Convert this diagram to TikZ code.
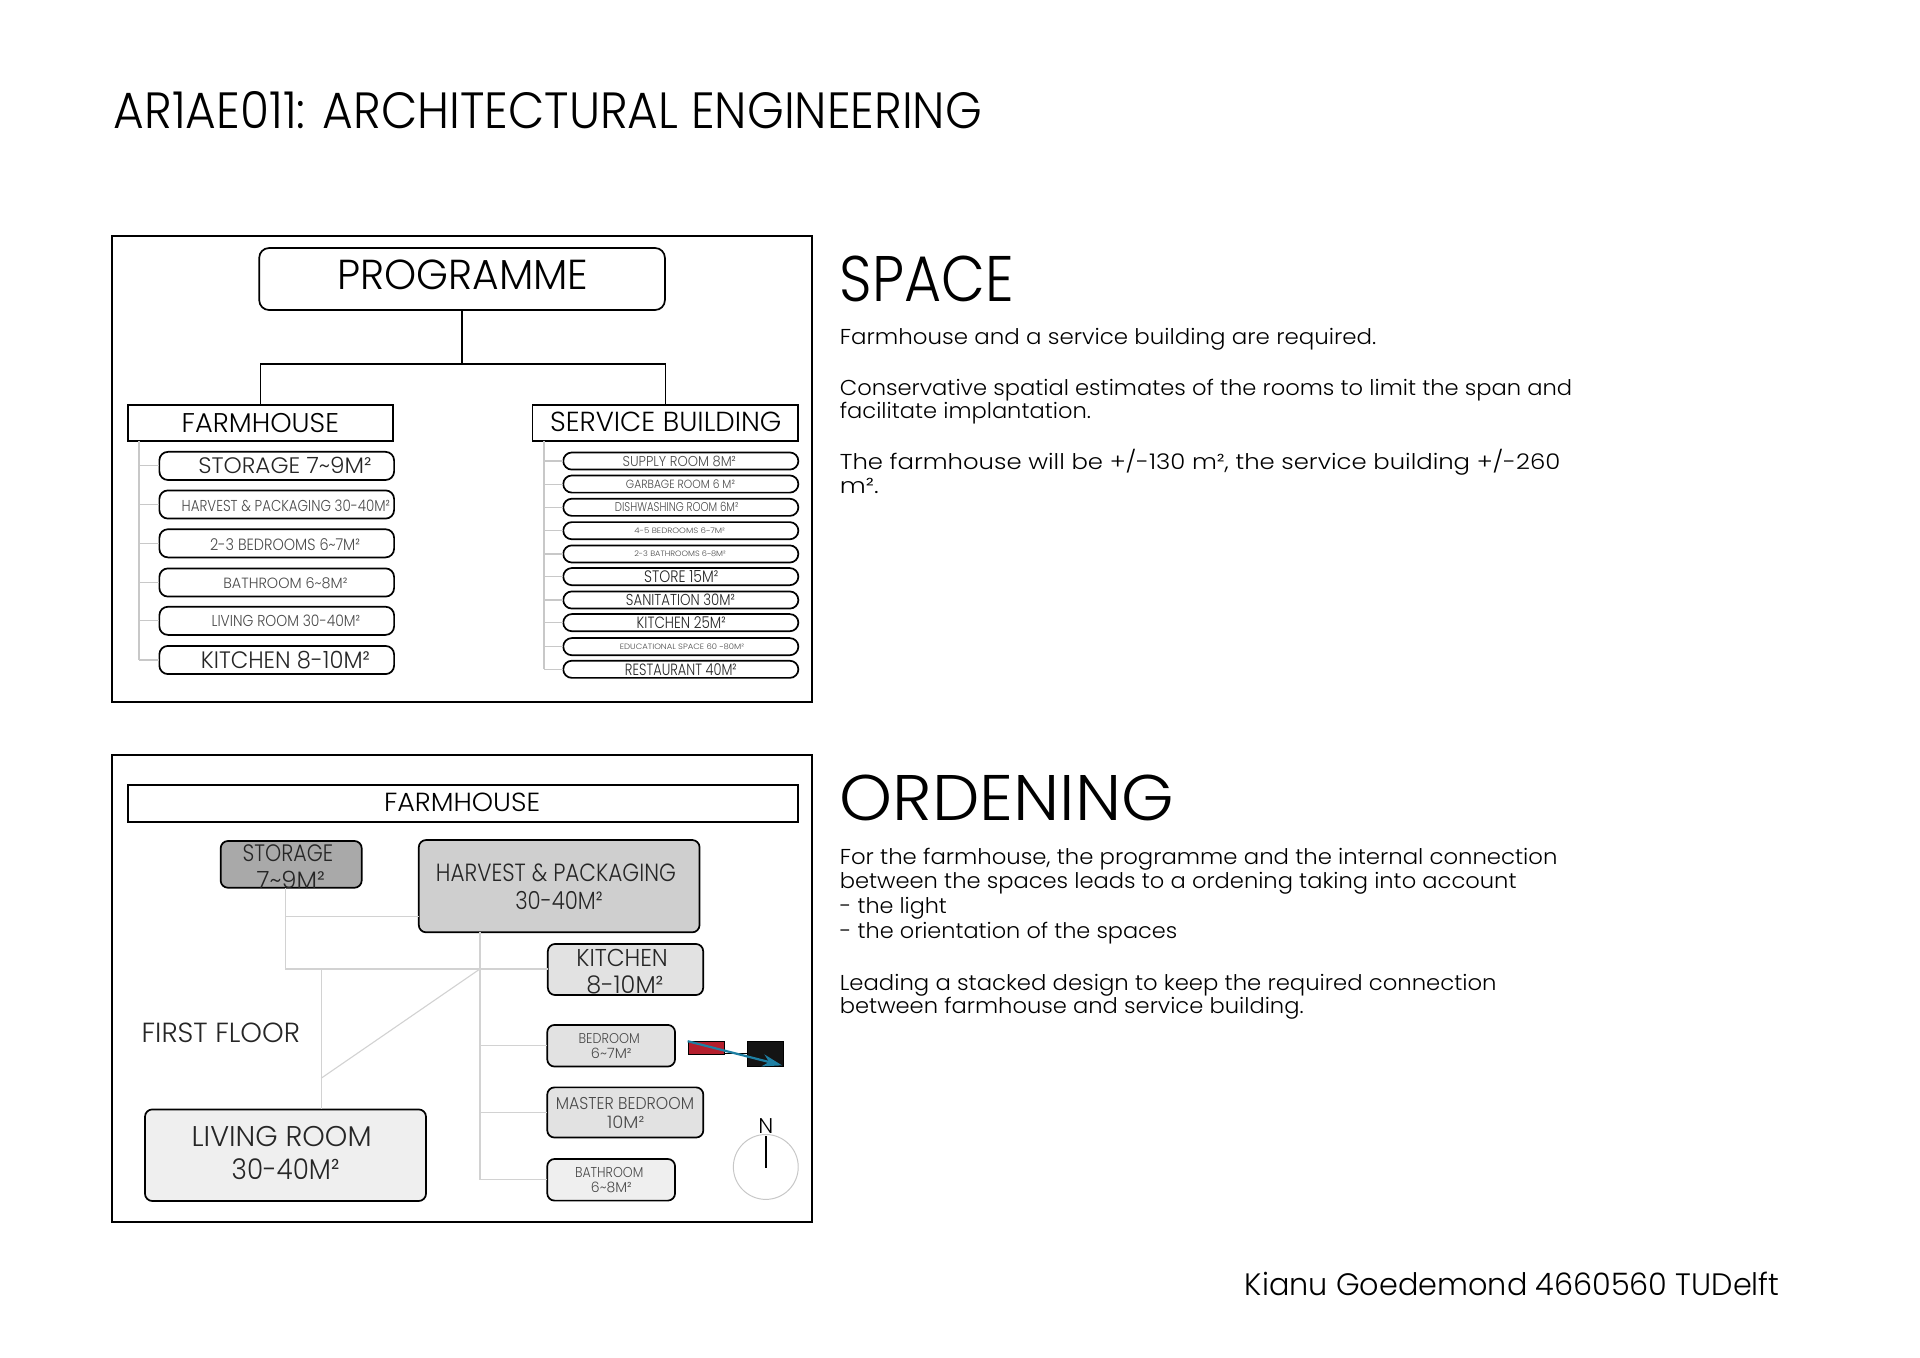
\documentclass[tikz,border=0pt]{standalone}
\usepackage{fontspec}
\setmainfont{Poppins Light}
\usepackage{graphicx}
\usetikzlibrary{arrows.meta}
\definecolor{lgray}{HTML}{D2D2D2}
\definecolor{tgray}{HTML}{C8C8C8}
\definecolor{dtext}{HTML}{262626}
\definecolor{mtext}{HTML}{4A4A4A}
\definecolor{fstor}{HTML}{A9A9A9}
\definecolor{fharv}{HTML}{CFCFCF}
\definecolor{fmid}{HTML}{E2E2E2}
\definecolor{flight}{HTML}{EFEFEF}
\definecolor{redc}{HTML}{B41F2D}
\definecolor{arrowc}{HTML}{1E7FA3}
\newcommand\tl[3]{\resizebox{#2pt}{\height}{\fontsize{#1}{#1}\selectfont #3}}
\tikzset{
  txt/.style={anchor=base west, inner sep=0pt, outer sep=0pt},
  frm/.style={draw=black, line width=1.6pt, inner sep=0pt, outer sep=0pt},
  hbox/.style={draw=black, line width=1.4pt, inner sep=0pt, outer sep=0pt},
  rbox/.style={hbox, rounded corners=#1},
  rbox/.default=7pt,
  gline/.style={draw=lgray, line width=0.9pt},
  tline/.style={draw=tgray, line width=0.9pt},
  bline/.style={draw=black, line width=1.4pt},
}
\begin{document}
\begin{tikzpicture}[x=1pt,y=-1pt]
\useasboundingbox (0,0) rectangle (1568,1109);
\fill[white] (0,0) rectangle (1568,1109);

% ---------- headings and texts ----------
\node[txt] (title) at (93,104.8) {\tl{41.6}{709}{AR1AE011: ARCHITECTURAL ENGINEERING}};

\node[txt] (space) at (685.9,246.4) {\tl{52.6}{142.2}{SPACE}};
\node[txt] (sp1) at (685.9,281.7) {\tl{17.6}{438}{Farmhouse and a service building are required.}};
\node[txt] (sp2) at (685.9,323.1) {\tl{17.6}{598}{Conservative spatial estimates of the rooms to limit the span and}};
\node[txt] (sp3) at (685.9,341.6) {\tl{17.6}{205}{facilitate implantation.}};
\node[txt] (sp4) at (685.9,383.8) {\tl{17.6}{588.3}{The farmhouse will be +/-130 m², the service building +/-260}};
\node[txt] (sp5) at (685.9,402.9) {\tl{17.6}{31.7}{m².}};

\node[txt] (ord) at (685.9,669.7) {\tl{52.6}{273}{ORDENING}};
\node[txt] (or1) at (685.9,706.4) {\tl{17.6}{586}{For the farmhouse, the programme and the internal connection}};
\node[txt] (or2) at (685.9,725.4) {\tl{17.6}{552.6}{between the spaces leads to a ordening taking into account}};
\node[txt] (or3) at (685.9,745.9) {\tl{17.6}{87.4}{- the light}};
\node[txt] (or4) at (685.9,766.3) {\tl{17.6}{275.5}{- the orientation of the spaces}};
\node[txt] (or5) at (685.9,808.5) {\tl{17.6}{536.3}{Leading a stacked design to keep the required connection}};
\node[txt] (or6) at (685.9,827.5) {\tl{17.6}{378.7}{between farmhouse and service building.}};

\node[txt] (foot) at (1016.7,1057.6) {\tl{25.3}{436.5}{Kianu Goedemond 4660560 TUDelft}};

% ---------- top panel ----------
\node[frm, minimum width=571.3pt, minimum height=380.3pt] (toppanel) at (377.35,382.85) {};

\node[rbox=8pt, minimum width=331.3pt, minimum height=50.6pt] (prog) at (377.35,227.85) {};
\node[txt] (progt) at (275.5,236.8) {\tl{34.2}{205}{PROGRAMME}};

\node[hbox, minimum width=216.4pt, minimum height=29.4pt] (fh) at (212.8,345.4) {};
\node[txt] (fht) at (148.4,353) {\tl{22.1}{128.4}{FARMHOUSE}};
\node[hbox, minimum width=217pt, minimum height=29.4pt] (sb) at (543.4,345.4) {};
\node[txt] (sbt) at (449.2,352.6) {\tl{22.5}{189}{SERVICE BUILDING}};

\coordinate (tj) at (377.35,297.5);
\draw[bline] (prog.south) -- (tj);
\draw[bline] (fh.north) |- (tj) -| (sb.north);

% farmhouse list
\node[rbox, minimum width=191.7pt, minimum height=23pt] (f1) at (226,380.5) {};
\node[rbox, minimum width=191.7pt, minimum height=23pt] (f2) at (226,412) {};
\node[rbox, minimum width=191.7pt, minimum height=23pt] (f3) at (226,443.7) {};
\node[rbox, minimum width=191.7pt, minimum height=23pt] (f4) at (226,475.7) {};
\node[rbox, minimum width=191.7pt, minimum height=23pt] (f5) at (226,507) {};
\node[rbox, minimum width=191.7pt, minimum height=23pt] (f6) at (226,539) {};
\node[txt, text=dtext] (f1t) at (162,386.5) {\tl{18.3}{141.5}{STORAGE 7\textasciitilde 9M²}};
\node[txt, text=mtext] (f2t) at (148.4,417.9) {\tl{12.9}{170}{HARVEST \& PACKAGING 30-40M²}};
\node[txt, text=mtext] (f3t) at (171.5,449.7) {\tl{13.3}{122.5}{2-3 BEDROOMS 6\textasciitilde 7M²}};
\node[txt, text=mtext] (f4t) at (182.4,480.8) {\tl{12.1}{101.3}{BATHROOM 6\textasciitilde 8M²}};
\node[txt, text=mtext] (f5t) at (172.9,511.8) {\tl{12.9}{121.1}{LIVING ROOM 30-40M²}};
\node[txt, text=dtext] (f6t) at (164.1,545.8) {\tl{19.4}{138}{KITCHEN 8-10M²}};

\coordinate (ft) at (113.5,360.1);
\draw[tline] (fh.south -| ft) -- (ft |- f6.west);
\foreach \i in {1,...,6} { \draw[tline] (ft |- f\i.west) -- (f\i.west); }

% service list
\foreach \i/\yy in {1/376.5,2/395.3,3/414.3,4/433.4,5/452.4,6/470.9,7/490,8/508.5,9/528.1,10/546.6} {
  \node[rbox=7pt, minimum width=192pt, minimum height=14pt] (s\i) at (556,\yy) {};
}
\node[txt, text=mtext] (s1t) at (508.5,380.6) {\tl{11.7}{92.5}{SUPPLY ROOM 8M²}};
\node[txt, text=mtext] (s2t) at (511.2,398.7) {\tl{9.7}{89}{GARBAGE ROOM 6 M²}};
\node[txt, text=mtext] (s3t) at (502.2,418) {\tl{10.4}{100.8}{DISHWASHING ROOM 6M²}};
\node[txt, text=mtext] (s4t) at (518,435.6) {\tl{6.3}{74}{4-5 BEDROOMS 6\textasciitilde 7M²}};
\node[txt, text=mtext] (s5t) at (518,454.6) {\tl{6.3}{74.7}{2-3 BATHROOMS 6\textasciitilde 8M²}};
\node[txt, text=dtext] (s6t) at (526,475.7) {\tl{13.6}{60.6}{STORE 15M²}};
\node[txt, text=dtext] (s7t) at (511.2,494.5) {\tl{12.9}{89}{SANITATION 30M²}};
\node[txt, text=dtext] (s8t) at (520,513.2) {\tl{13.3}{72.6}{KITCHEN 25M²}};
\node[txt, text=mtext] (s9t) at (506.3,530.3) {\tl{6.3}{101.3}{EDUCATIONAL SPACE 60 \textasciitilde 80M²}};
\node[txt, text=dtext] (s10t) at (510.4,551.3) {\tl{13.3}{91.2}{RESTAURANT 40M²}};

\coordinate (st) at (444.3,360.1);
\draw[tline] (sb.south -| st) -- (st |- s10.west);
\foreach \i in {1,...,10} { \draw[tline] (st |- s\i.west) -- (s\i.west); }

% ---------- bottom panel ----------
\node[frm, minimum width=571.3pt, minimum height=381.1pt] (botpanel) at (377.35,807.15) {};
\node[hbox, minimum width=547.3pt, minimum height=29.9pt] (fb) at (378.25,656.05) {};
\node[txt] (fbt) at (313.6,663) {\tl{21.4}{127.5}{FARMHOUSE}};

% connectors (under boxes)
\coordinate (j1) at (233.3,748.6);
\coordinate (j2) at (233.3,791.3);
\coordinate (j3) at (262.2,791.3);
\coordinate (j4) at (262.2,880.6);
\coordinate (j5) at (392,791.3);

\node[rbox=6pt, fill=fstor, minimum width=115.2pt, minimum height=38.2pt] (stor) at (237.8,705.9) {};
\node[rbox=6pt, fill=fharv, minimum width=229.3pt, minimum height=75.4pt] (harv) at (456.65,723.7) {};
\node[rbox=6pt, fill=fmid, minimum width=126.9pt, minimum height=41.7pt] (kit) at (510.85,791.75) {};
\node[rbox=6pt, fill=fmid, minimum width=104.4pt, minimum height=34pt] (bed) at (499.1,854) {};
\node[rbox=6pt, fill=fmid, minimum width=127.5pt, minimum height=41pt] (mast) at (510.65,908.5) {};
\node[rbox=6pt, fill=flight, minimum width=104.4pt, minimum height=34pt] (bath) at (499.1,963.5) {};
\node[rbox=6pt, fill=flight, minimum width=229.5pt, minimum height=74.8pt] (liv) at (233.15,943.4) {};

\draw[gline] (stor.south -| j1) -- (j2) -- (j2 -| kit.west);
\draw[gline] (j1) -- (j1 -| harv.west);
\draw[gline] (j3) -- (j3 |- liv.north);
\draw[gline] (j4) -- (j5);
\draw[gline] (harv.south -| j5) -- (j5 |- bath.west) -- (bath.west);
\draw[gline] (j5 |- bed.west) -- (bed.west);
\draw[gline] (j5 |- mast.west) -- (mast.west);

\node[txt, text=dtext] (stor1) at (198.2,703.7) {\tl{19.4}{74}{STORAGE}};
\node[txt, text=dtext] (stor2) at (209.6,725.5) {\tl{19.4}{55.8}{7\textasciitilde 9M²}};
\node[txt, text=dtext] (harv1) at (356,720) {\tl{20.3}{196}{HARVEST \& PACKAGING}};
\node[txt, text=dtext] (harv2) at (420.8,742.6) {\tl{20.3}{71.4}{30-40M²}};
\node[txt, text=dtext] (kit1) at (470.7,788.9) {\tl{19.9}{74.7}{KITCHEN}};
\node[txt, text=dtext] (kit2) at (478.8,811.2) {\tl{19.9}{63}{8-10M²}};
\node[txt, text=mtext] (bed1) at (472.5,852) {\tl{11.6}{50}{BEDROOM}};
\node[txt, text=mtext] (bed2) at (482.6,864.3) {\tl{11.6}{33.2}{6\textasciitilde 7M²}};
\node[txt, text=mtext] (mast1) at (454,906) {\tl{14}{112.8}{MASTER BEDROOM}};
\node[txt, text=mtext] (mast2) at (495.9,921.4) {\tl{14}{30.3}{10M²}};
\node[txt, text=mtext] (bath1) at (469.6,961.5) {\tl{11.7}{55.8}{BATHROOM}};
\node[txt, text=mtext] (bath2) at (482.6,974) {\tl{11.7}{33.2}{6\textasciitilde 8M²}};
\node[txt, text=dtext] (liv1) at (156.5,936) {\tl{23.3}{147}{LIVING ROOM}};
\node[txt, text=dtext] (liv2) at (189.2,963.6) {\tl{23.3}{88}{30-40M²}};
\node[txt, text=dtext] (ff) at (115.7,851.5) {\tl{22.6}{129.3}{FIRST FLOOR}};

% sun / orientation icon
\node[draw=black, line width=0.8pt, fill=redc, minimum width=29.5pt, minimum height=10.3pt, inner sep=0pt] (redr) at (576.75,855.85) {};
\node[draw=black, line width=0.8pt, fill=black!92, minimum width=29.1pt, minimum height=20.4pt, inner sep=0pt] (blk) at (625.15,860.9) {};
\draw[black, line width=0.9pt] ([yshift=1.3pt]redr.south east) -- ([yshift=1.3pt]redr.south east -| blk.west);
\draw[draw=arrowc, line width=1.8pt, -{Stealth[length=16pt,width=10pt]}] (redr.north west) -- ([shift={(-1.5,-1.5)}]blk.south east);

% compass
\node[circle, draw=black!22, line width=0.8pt, minimum size=53pt, inner sep=0pt] (comp) at (625.4,953) {};
\draw[black, line width=1.4pt] ([yshift=-2pt]comp.north) -- ([yshift=-1pt]comp.center);
\node[txt] (north) at (619.3,925.5) {\tl{17.4}{12.2}{N}};
\end{tikzpicture}
\end{document}
